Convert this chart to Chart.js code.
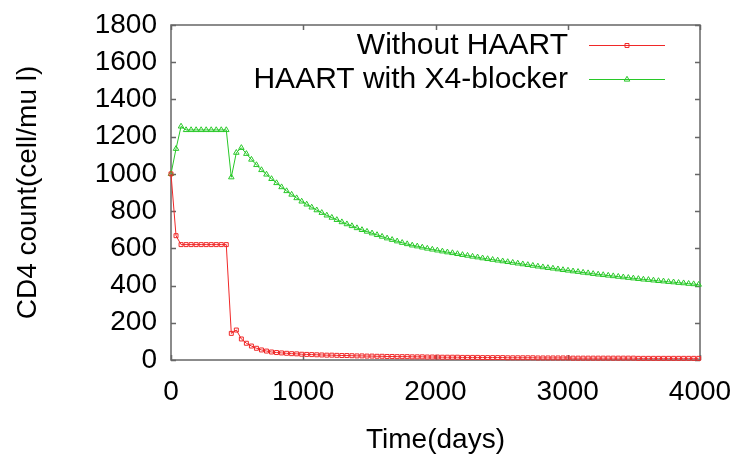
<!DOCTYPE html>
<html>
<head>
<meta charset="utf-8">
<script src="https://cdn.jsdelivr.net/npm/chart.js@4"></script>
<style>
  html, body { margin: 0; padding: 0; background: #fff; }
  #wrap { width: 738px; height: 459px; }
</style>
</head>
<body>
<div id="wrap"><canvas id="chart" width="738" height="459"></canvas></div>
<script>
// ----- Data -----
const days = [0, 38, 76, 114, 152, 190, 228, 266, 304, 342, 380, 418, 456, 494, 532, 570, 608, 646, 684, 722,
  760, 798, 836, 874, 912, 950, 988, 1026, 1064, 1102, 1140, 1178, 1216, 1254, 1292, 1330, 1368, 1406, 1444, 1482,
  1520, 1558, 1596, 1634, 1672, 1710, 1748, 1786, 1824, 1862, 1900, 1938, 1976, 2014, 2052, 2090, 2128, 2166, 2204, 2242,
  2280, 2318, 2356, 2394, 2432, 2470, 2508, 2546, 2584, 2622, 2660, 2698, 2736, 2774, 2812, 2850, 2888, 2926, 2964, 3002,
  3040, 3078, 3116, 3154, 3192, 3230, 3268, 3306, 3344, 3382, 3420, 3458, 3496, 3534, 3572, 3610, 3648, 3686, 3724, 3762,
  3800, 3838, 3876, 3914, 3952, 3990];

const withoutHaart = [1000, 668, 620, 620, 620, 620, 620, 620, 620, 620, 620, 620, 143, 161, 113, 90, 75, 63, 54, 48,
  43, 40, 38, 36, 34, 33, 31, 30, 29, 28, 27, 26, 26, 25, 24, 24, 23, 22, 22, 21,
  21, 20, 20, 19, 19, 18, 18, 18, 17, 17, 17, 16, 16, 16, 15, 15, 15, 15, 14, 14,
  14, 14, 13, 13, 13, 13, 13, 12, 12, 12, 12, 12, 12, 11, 11, 11, 11, 11, 11, 11,
  10, 10, 10, 10, 10, 10, 10, 10, 10, 10, 10, 10, 10, 9, 9, 9, 9, 9, 9, 9,
  9, 9, 9, 9, 9, 9];

const haartX4 = [1000, 1135, 1255, 1236, 1236, 1236, 1236, 1236, 1236, 1236, 1236, 1236, 982, 1114, 1140, 1108, 1077, 1048, 1021, 997,
  973, 951, 929, 908, 889, 870, 852, 836, 820, 805, 791, 777, 765, 753, 741, 730, 720, 709, 699, 690,
  681, 672, 663, 654, 646, 638, 630, 623, 616, 611, 605, 599, 594, 589, 584, 579, 575, 570, 565, 561,
  556, 552, 547, 543, 539, 535, 531, 527, 523, 519, 515, 511, 507, 503, 499, 495, 492, 488, 484, 481,
  477, 474, 470, 467, 463, 460, 457, 454, 451, 448, 445, 442, 439, 436, 433, 431, 428, 425, 423, 420,
  418, 415, 413, 410, 408, 405];

const seriesNames = ["Without HAART", "HAART with X4-blocker"];
const xTitle = "Time(days)";
const yTitle = "CD4 count(cell/mu l)";

const FONT = "'Liberation Sans', Arial, sans-serif";
const RED = "rgb(240,40,40)";
const GREEN = "rgb(40,200,40)";

// ----- Frame + legend (gnuplot style) -----
const framePlugin = {
  id: "frame",
  beforeDatasetsDraw(chart) {
    const { ctx, chartArea: a, scales: { x, y } } = chart;
    ctx.save();
    ctx.strokeStyle = "#666";
    ctx.lineWidth = 1.5;
    ctx.strokeRect(a.left, a.top, a.right - a.left, a.bottom - a.top);
    ctx.beginPath();
    x.ticks.forEach(t => {
      const px = Math.round(x.getPixelForValue(t.value)) + 0.5;
      ctx.moveTo(px, a.bottom); ctx.lineTo(px, a.bottom - 5);
      ctx.moveTo(px, a.top); ctx.lineTo(px, a.top + 5);
    });
    y.ticks.forEach(t => {
      const py = Math.round(y.getPixelForValue(t.value)) + 0.5;
      ctx.moveTo(a.left, py); ctx.lineTo(a.left + 5, py);
      ctx.moveTo(a.right, py); ctx.lineTo(a.right - 5, py);
    });
    ctx.stroke();
    ctx.restore();
  },
  afterDraw(chart) {
    const ctx = chart.ctx;
    ctx.save();
    chart.data.datasets.forEach((ds, i) => {
      const ly = 45 + i * 34;
      ctx.font = "30px " + FONT;
      ctx.fillStyle = "#000";
      ctx.textAlign = "right";
      ctx.textBaseline = "alphabetic";
      ctx.fillText(ds.label, 568, ly + 8.5);
      ctx.strokeStyle = ds.borderColor;
      ctx.lineWidth = 1;
      ctx.beginPath();
      ctx.moveTo(589, ly + 0.5); ctx.lineTo(665, ly + 0.5);
      ctx.stroke();
      ctx.fillStyle = "rgba(0,0,0,0)";
      Chart.helpers.drawPoint(ctx, { pointStyle: ds.pointStyle, radius: ds.pointRadius, rotation: 0, borderWidth: 1 }, 627, ly + 0.5);
    });
    ctx.restore();
  }
};

// ----- Chart -----
new Chart(document.getElementById("chart"), {
  type: "line",
  data: {
    datasets: [
      {
        label: seriesNames[0],
        data: days.map((d, i) => ({ x: d, y: withoutHaart[i] })),
        borderColor: RED, borderWidth: 1,
        pointStyle: "rect", pointRadius: 2.8, pointBorderWidth: 1,
        pointBorderColor: RED, pointBackgroundColor: "rgba(0,0,0,0)",
        tension: 0, clip: false
      },
      {
        label: seriesNames[1],
        data: days.map((d, i) => ({ x: d, y: haartX4[i] })),
        borderColor: GREEN, borderWidth: 1,
        pointStyle: "triangle", pointRadius: 3.2, pointBorderWidth: 1,
        pointBorderColor: GREEN, pointBackgroundColor: "rgba(0,0,0,0)",
        tension: 0, clip: false
      }
    ]
  },
  options: {
    responsive: false,
    animation: false,
    devicePixelRatio: 1,
    layout: { padding: { left: 0, right: 38, top: 25, bottom: 0 } },
    plugins: { legend: { display: false }, tooltip: { enabled: false } },
    scales: {
      x: {
        type: "linear", min: 0, max: 4000,
        ticks: { stepSize: 1000, maxRotation: 0, autoSkip: false, padding: 15, color: "#000",
                 font: { family: FONT, size: 28 }, callback: v => String(v) },
        grid: { display: false, drawTicks: false },
        border: { display: false },
        title: { display: true, text: xTitle, color: "#000", font: { family: FONT, size: 28 }, padding: { top: 0, bottom: 2 } },
        afterFit: s => { s.height = 99; s.paddingLeft = 0; s.paddingRight = 0; }
      },
      y: {
        type: "linear", min: 0, max: 1800,
        ticks: { stepSize: 200, autoSkip: false, padding: 14, color: "#000",
                 font: { family: FONT, size: 28 }, callback: v => String(v) },
        grid: { display: false, drawTicks: false },
        border: { display: false },
        title: { display: true, text: yTitle, color: "#000", font: { family: FONT, size: 28 }, padding: { top: 11, bottom: 0 } },
        afterFit: s => { s.width = 171; s.paddingTop = 0; s.paddingBottom = 0; }
      }
    }
  },
  plugins: [framePlugin]
});
</script>
</body>
</html>
